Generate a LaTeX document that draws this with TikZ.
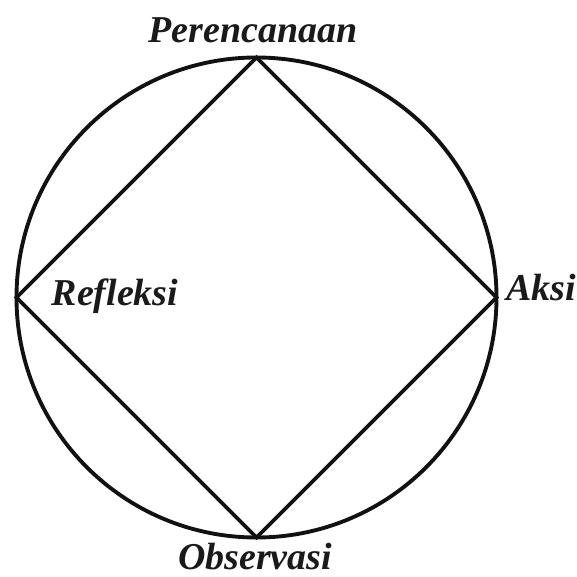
\documentclass[tikz,border=0pt]{standalone}
\usepackage{fontspec}
\setmainfont{Liberation Serif}
\usetikzlibrary{calc}
\usepackage{xcolor}
\definecolor{cLine}{HTML}{111111}
\definecolor{cText}{HTML}{1A1A1A}
\tikzset{
  cyc/.style={draw=cLine, line width=1.1pt},
  phase/.style={font=\fontsize{10.8}{12}\selectfont\bfseries\itshape,
                text=cText, inner sep=1pt},
}

\begin{document}
\begin{tikzpicture}

% ── Frame ─────────────────────────────────────────────────────────────────────
\useasboundingbox (0,0) rectangle (5.77,5.77);

% ── Cycle vertices ────────────────────────────────────────────────────────────
\def\cx{2.565}
\def\cy{2.795}
\def\rr{2.40}
\coordinate (ctr)  at (\cx, \cy);
\coordinate (top)  at (\cx, \cy+\rr);
\coordinate (rgt)  at (\cx+\rr, \cy);
\coordinate (bot)  at (\cx, \cy-\rr);
\coordinate (lft)  at (\cx-\rr, \cy);

% ── Circle and diamond ────────────────────────────────────────────────────────
\node[cyc, circle, minimum size=4.8cm, inner sep=0pt] (ring) at (ctr) {};
\draw[cyc, line join=miter] (top) -- (rgt) -- (bot) -- (lft) -- cycle;

% ── Phase labels ──────────────────────────────────────────────────────────────
\node[phase] (plan) at (2.53, 5.47) {Perencanaan};
\node[phase] (act)  at (5.41, 2.89) {Aksi};
\node[phase] (obs)  at (2.55, 0.20) {Observasi};
\node[phase] (refl) at (1.15, 2.81) {Refleksi};

\end{tikzpicture}
\end{document}
